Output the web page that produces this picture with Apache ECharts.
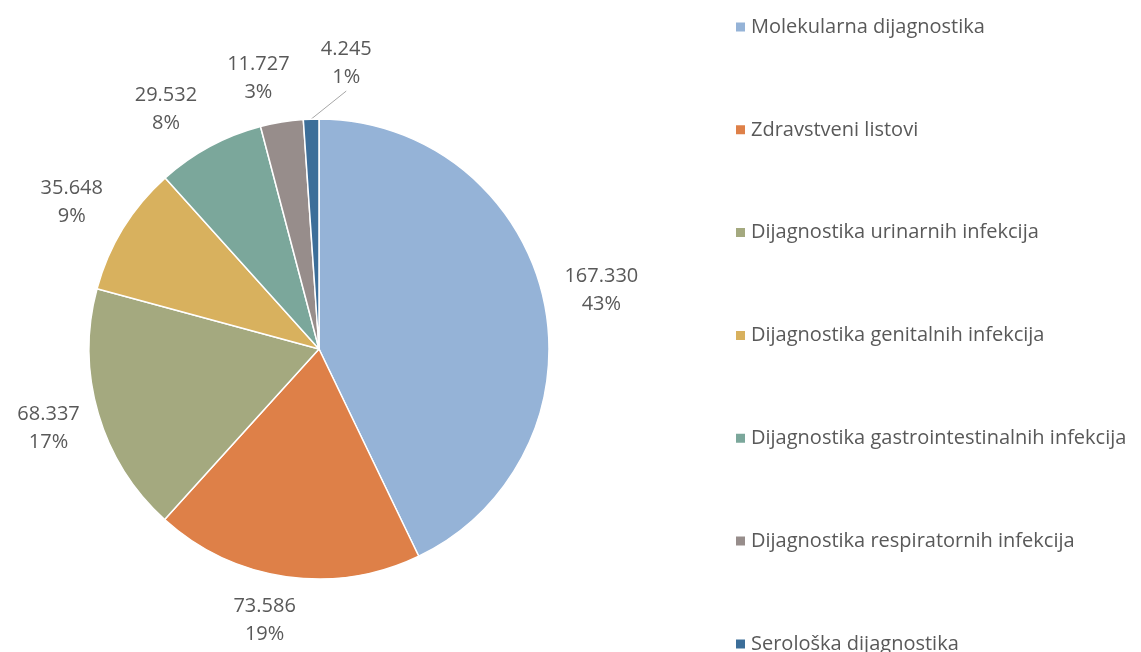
<!DOCTYPE html>
<html>
<head>
<meta charset="utf-8">
<script src="https://cdn.jsdelivr.net/npm/echarts@6/dist/echarts.min.js"></script>
<style>
  html, body { margin: 0; padding: 0; background: #fff; }
  #chart { width: 1141px; height: 652px; }
</style>
</head>
<body>
<div id="chart"></div>
<script>
const categories = [
  "Molekularna dijagnostika",
  "Zdravstveni listovi",
  "Dijagnostika urinarnih infekcija",
  "Dijagnostika genitalnih infekcija",
  "Dijagnostika gastrointestinalnih infekcija",
  "Dijagnostika respiratornih infekcija",
  "Serološka dijagnostika"
];
const values = [167330, 73586, 68337, 35648, 29532, 11727, 4245];
const colors = ["#95B3D7", "#DE8048", "#A4A97F", "#D8B15E", "#7BA79B", "#978D8B", "#3C6E99"];

// small label nudges (outward / sideways), like Excel's overlap avoidance
const labelAlong = [2, 0, 0, 2, 0, 0, 12];
const labelSide = [6, 15, 0, -5, -21, -16, 37];

const pieCenter = [319, 349];
const chart = echarts.init(document.getElementById("chart"));

function fmt(v) {
  return String(v).replace(/\B(?=(\d{3})+(?!\d))/g, ".");
}

const pieData = categories.map((name, i) => ({
  name: name,
  value: values[i],
  labelLine: i === values.length - 1
    ? { lineStyle: { opacity: 1 } }
    : { lineStyle: { opacity: 0 } }
}));

const legendBase = {
  orient: "vertical",
  left: 734,
  padding: 0,
  icon: "rect",
  itemWidth: 11,
  itemHeight: 11,
  itemGap: 82.8,
  textStyle: {
    fontFamily: "Open Sans",
    fontSize: 20,
    lineHeight: 20,
    color: "#595959"
  }
};

const option = {
  animation: false,
  color: colors,
  legend: [
    Object.assign({}, legendBase, { top: 17, data: categories.slice(0, 6) }),
    Object.assign({}, legendBase, { top: 634, data: categories.slice(6) })
  ],
  series: [
    {
      type: "pie",
      center: pieCenter,
      radius: 230,
      startAngle: 90,
      clockwise: true,
      percentPrecision: 0,
      data: pieData,
      itemStyle: {
        borderColor: "#fff",
        borderWidth: 1.5
      },
      label: {
        position: "outside",
        fontFamily: "Open Sans",
        fontSize: 20,
        lineHeight: 28,
        color: "#595959",
        formatter: (p) => fmt(p.value) + "\n" + p.percent + "%"
      },
      labelLine: {
        show: true,
        length: 20,
        length2: 0,
        lineStyle: { color: "#A6A6A6", width: 1 }
      },
      labelLayout: function (params) {
        const pts = params.labelLinePoints;
        if (!pts) return {};
        const i = params.dataIndex;
        const p0 = pts[0];
        let dx = p0[0] - pieCenter[0];
        let dy = p0[1] - pieCenter[1];
        const len = Math.sqrt(dx * dx + dy * dy) || 1;
        dx /= len;
        dy /= len;
        const w = params.labelRect.width;
        const h = params.labelRect.height;
        const gap = 14;
        const d = gap + Math.abs(dx) * w / 2 + Math.abs(dy) * h / 2 + labelAlong[i];
        const x = p0[0] + dx * d - dy * labelSide[i];
        const y = p0[1] + dy * d + dx * labelSide[i];
        return { x: x, y: y, align: "center", verticalAlign: "middle" };
      }
    }
  ]
};

chart.setOption(option);
</script>
</body>
</html>
